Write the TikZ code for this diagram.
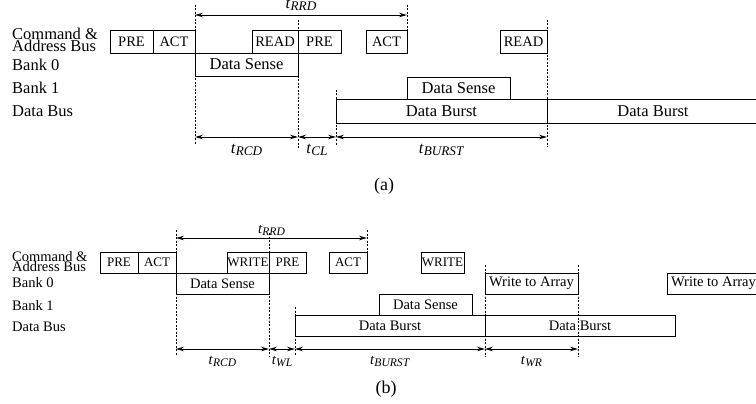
\documentclass[tikz,border=0pt]{standalone}
\usepackage{fontspec}
\setmainfont{Liberation Serif}
\usetikzlibrary{arrows.meta,positioning}
\newcommand{\tparam}[1]{\textit{t}\raisebox{-2pt}{\scalebox{0.8}{\textit{#1}}}}
\tikzset{
  box/.style={draw,line width=0.9pt,inner sep=0pt,outer sep=0pt,anchor=north west},
  lbl/.style={inner sep=0pt,anchor=north west,align=left},
  rowlbl/.style={inner sep=0pt,anchor=base west},
  guide/.style={line width=0.7pt,dash pattern=on 2pt off 1.5pt},
  span/.style={<->,line width=0.9pt},
  fontA/.style={font=\fontsize{16.5}{12}\selectfont},
  fontAcmd/.style={font=\fontsize{14.5}{14.5}\selectfont},
  fontB/.style={font=\fontsize{14.5}{10.5}\selectfont},
  fontBcmd/.style={font=\fontsize{13}{13}\selectfont}
}
\begin{document}
\begin{tikzpicture}[x=1pt,y=-1pt,>={Stealth[length=8pt,width=4.5pt]}]
\useasboundingbox (0,0) rectangle (756,404);
% (a) read timing
\begin{scope}[fontA]
\node[lbl] (acmdlbl) at (12,28) {Command \&\\Address Bus};
\node[rowlbl] (abank0) at (12,71) {Bank 0};
\node[rowlbl] (abank1) at (12,94) {Bank 1};
\node[rowlbl] (abus) at (12,117) {Data Bus};
\node[box,fontAcmd,minimum width=43pt,minimum height=23pt] (apre) at (110,30) {PRE};
\node[box,fontAcmd,minimum width=42pt,minimum height=23pt,right=0pt of apre] (aact) {ACT};
\node[box,fontAcmd,minimum width=46pt,minimum height=23pt] (aread) at (252,30) {READ};
\node[box,fontAcmd,minimum width=43pt,minimum height=23pt,right=0pt of aread] (apre2) {PRE};
\node[box,fontAcmd,minimum width=41pt,minimum height=23pt] (aact2) at (366,30) {ACT};
\node[box,fontAcmd,minimum width=47pt,minimum height=23pt] (aread2) at (500,30) {READ};
\node[box,minimum width=103pt,minimum height=23pt] (asense0) at (195,53) {Data Sense};
\node[box,minimum width=103pt,minimum height=22pt] (asense1) at (407,77) {Data Sense};
\node[box,minimum width=211pt,minimum height=24pt] (aburst1) at (336,99) {Data Burst};
\node[box,minimum width=212pt,minimum height=24pt,right=0pt of aburst1] (aburst2) {Data Burst};
% guides
\draw[guide] (195,5) -- (195,145);
\draw[guide] (298,20) -- (298,148);
\draw[guide] (336,90) -- (336,145);
\draw[guide] (407,5) -- (407,53);
\draw[guide] (547,20) -- (547,147);
% spans
\coordinate (arrd1) at (195,15);
\coordinate (arrd2) at (407,15);
\foreach \n/\x in {1/195,2/298,3/336,4/547} \coordinate (ta\n) at (\x,137);
\draw[span] (arrd1) -- node[above=2pt,inner sep=2pt]{\tparam{RRD}} (arrd2);
\draw[span] (ta1) -- node[below=3pt]{\tparam{RCD}} (ta2);
\draw[span] (ta2) -- node[below=3pt]{\tparam{CL}} (ta3);
\draw[span] (ta3) -- node[below=3pt]{\tparam{BURST}} (ta4);
\node[font=\fontsize{18}{18}\selectfont] (acap) at (384,186) {(a)};
\end{scope}
% (b) write timing
\begin{scope}[fontB]
\node[lbl] (bcmdlbl) at (12,251) {Command \&\\Address Bus};
\node[rowlbl] (bbank0) at (12,287) {Bank 0};
\node[rowlbl] (bbank1) at (12,310) {Bank 1};
\node[rowlbl] (bbus) at (12,331) {Data Bus};
\node[box,fontBcmd,minimum width=38pt,minimum height=21pt] (bpre) at (100,252) {PRE};
\node[box,fontBcmd,minimum width=38pt,minimum height=21pt,right=0pt of bpre] (bact) {ACT};
\node[box,fontBcmd,minimum width=42pt,minimum height=21pt] (bwrite) at (227,252) {WRITE};
\node[box,fontBcmd,minimum width=37pt,minimum height=21pt,right=0pt of bwrite] (bpre2) {PRE};
\node[box,fontBcmd,minimum width=38pt,minimum height=21pt] (bact2) at (329,252) {ACT};
\node[box,fontBcmd,minimum width=43pt,minimum height=21pt] (bwrite2) at (421,252) {WRITE};
\node[box,minimum width=93pt,minimum height=21pt] (bsense0) at (176,273) {Data Sense};
\node[box,minimum width=93pt,minimum height=21pt] (barray1) at (485,273) {Write to Array};
\node[box,minimum width=93pt,minimum height=21pt] (barray2) at (667,273) {Write to Array};
\node[box,minimum width=93pt,minimum height=21pt] (bsense1) at (379,294) {Data Sense};
\node[box,minimum width=190pt,minimum height=21pt] (bburst1) at (295,315) {Data Burst};
\node[box,minimum width=190pt,minimum height=21pt,right=0pt of bburst1] (bburst2) {Data Burst};
% guides
\draw[guide] (176,230) -- (176,355);
\draw[guide] (269,233) -- (269,357);
\draw[guide] (295,307) -- (295,355);
\draw[guide] (367,230) -- (367,252);
\draw[guide] (485,265) -- (485,357);
\draw[guide] (578,265) -- (578,357);
% spans
\coordinate (brrd1) at (176,238);
\coordinate (brrd2) at (367,238);
\foreach \n/\x in {1/176,2/269,3/295,4/485,5/578} \coordinate (tb\n) at (\x,349);
\draw[span] (brrd1) -- node[above=0pt,inner sep=2pt]{\tparam{RRD}} (brrd2);
\draw[span] (tb1) -- node[below=4pt]{\tparam{RCD}} (tb2);
\draw[span] (tb2) -- node[below=4pt]{\tparam{WL}} (tb3);
\draw[span] (tb3) -- node[below=4pt]{\tparam{BURST}} (tb4);
\draw[span] (tb4) -- node[below=4pt]{\tparam{WR}} (tb5);
\node[font=\fontsize{18}{18}\selectfont] (bcap) at (386,389) {(b)};
\end{scope}
\end{tikzpicture}
\end{document}
